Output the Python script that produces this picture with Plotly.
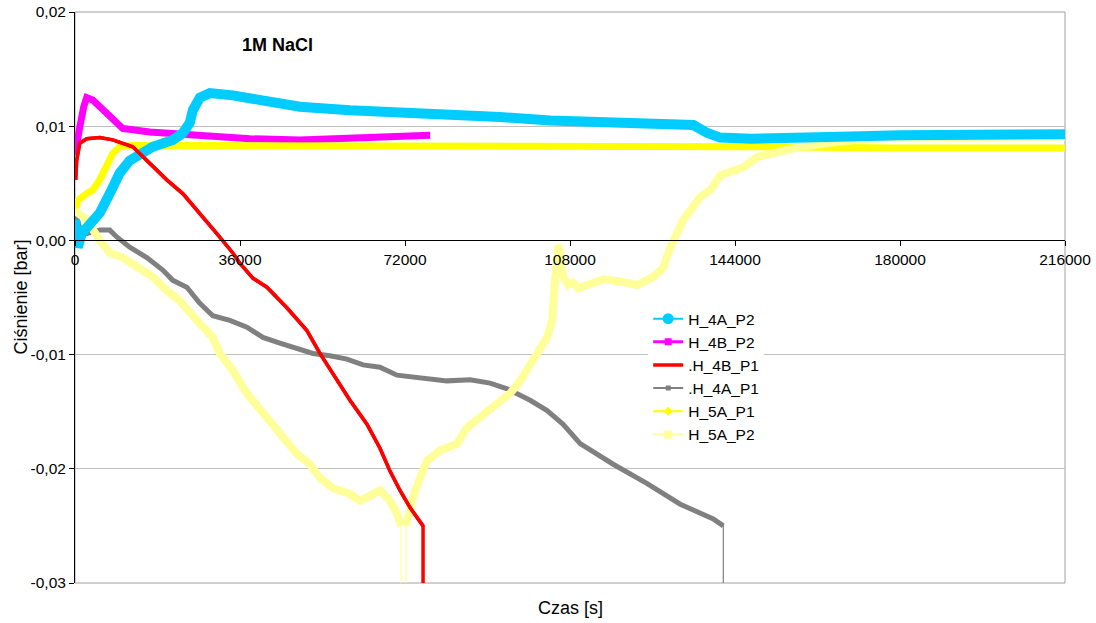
import plotly.graph_objects as go

# ---------------- data (time [s], pressure [bar]) ----------------
OFF = -0.05  # value below the axis minimum (line runs off-scale)

t_4A_P2 = [0, 600, 1460, 3210, 5400, 7580, 9760, 11950, 14130, 16970, 21340, 23520, 25050,
           25710, 27240, 29420, 34440, 41870, 49070, 60000, 70910, 81830, 92750, 103670,
           114590, 125510, 134900, 137960, 140800, 147350, 158270, 169190, 180110, 201950, 216000]
v_4A_P2 = [0.0018, -0.0006, 0.0006, 0.0015, 0.0024, 0.0041, 0.0059, 0.0070, 0.0076, 0.0082,
           0.0088, 0.0094, 0.0103, 0.0114, 0.0125, 0.0129, 0.0127, 0.0123, 0.0117, 0.0114,
           0.0112, 0.0112, 0.0108, 0.0105, 0.0103, 0.0101, 0.0101, 0.0094, 0.0090, 0.0089,
           0.0089, 0.0091, 0.0092, 0.0093, 0.0093]

t_4B_P2 = [0, 370, 1030, 1900, 2550, 3870, 5400, 7580, 10420, 16310, 27230, 38150, 49070,
           58480, 69400, 77480]
v_4B_P2 = [0.0075, 0.0088, 0.0099, 0.0117, 0.0125, 0.0123, 0.0117, 0.0108, 0.0098, 0.0095,
           0.0092, 0.0089, 0.0088, 0.0089, 0.0091, 0.0092]

t_4B_P1 = [150, 370, 1030, 2550, 5400, 8230, 12600, 16310, 20030, 23520, 27240, 30950, 34440,
           35960, 38800, 41870, 46230, 50600, 53440, 56280, 59990, 63700, 66540, 68730, 70910,
           73100, 74620, 75940, 75940]
v_4B_P1 = [0.0053, 0.0070, 0.0085, 0.0089, 0.0090, 0.0088, 0.0082, 0.0068, 0.0053, 0.0041,
           0.0024, 0.0006, -0.0011, -0.0020, -0.0033, -0.0041, -0.0059, -0.0079, -0.0099,
           -0.0117, -0.0140, -0.0161, -0.0182, -0.0202, -0.0219, -0.0234, -0.0243, -0.0250, OFF]

t_4A_P1 = [0, 1030, 2550, 5400, 7580, 9110, 11950, 15660, 19150, 21340, 24400, 27240, 30070,
           33790, 37500, 41000, 44710, 48420, 51910, 55630, 59340, 62840, 66540, 70250, 77460,
           81170, 86200, 90560, 94270, 99300, 103010, 106500, 110220, 117430, 124850, 132060,
           139260, 141450, 141450]
v_4A_P1 = [0.0026, 0.0011, 0.0006, 0.0009, 0.0009, 0.0003, -0.0006, -0.0015, -0.0026, -0.0035,
           -0.0041, -0.0055, -0.0066, -0.0070, -0.0076, -0.0085, -0.0090, -0.0095, -0.0099,
           -0.0101, -0.0104, -0.0109, -0.0111, -0.0118, -0.0121, -0.0123, -0.0122, -0.0125,
           -0.0130, -0.0140, -0.0149, -0.0161, -0.0178, -0.0196, -0.0213, -0.0231, -0.0244,
           -0.0250, OFF]

t_5A_P1 = [0, 600, 2550, 3870, 5400, 6920, 8230, 9760, 12600, 30000, 60000, 90000, 120000,
           150000, 180000, 216000]
v_5A_P1 = [0.0024, 0.0035, 0.0041, 0.0044, 0.0053, 0.0064, 0.0076, 0.0082, 0.0083, 0.0083,
           0.0083, 0.0082, 0.0082, 0.0082, 0.0081, 0.0081]

t_5A_P2 = [0, 2550, 5400, 7580, 10420, 12600, 13470, 16970, 20030, 22870, 26580, 30070, 31600,
           34440, 37500, 41000, 44710, 48420, 51260, 53440, 56280, 59990, 62180, 63700, 66540,
           68730, 70250, 71130, 71130, 72220, 72220, 73750, 75280, 76810, 79650, 83360, 85540,
           89910, 92750, 94930, 97120, 99960, 103010, 104110, 104330, 104770, 105210, 105430,
           105860, 106520, 107610, 108700, 109790, 111760, 115250, 118960, 122670, 126170,
           128350, 129880, 132060, 132720, 136430, 138620, 140800, 143640, 145830, 148890,
           152380, 158270, 165480, 172900, 180110, 201950, 216000]
v_5A_P2 = [0.0026, 0.0018, 0.0000, -0.0011, -0.0015, -0.0020, -0.0024, -0.0032, -0.0044,
           -0.0053, -0.0070, -0.0085, -0.0099, -0.0114, -0.0134, -0.0152, -0.0169, -0.0187,
           -0.0196, -0.0208, -0.0217, -0.0222, -0.0228, -0.0225, -0.0219, -0.0228, -0.0239,
           -0.0250, OFF, OFF, -0.0250, -0.0225, -0.0208, -0.0193, -0.0184, -0.0178, -0.0164,
           -0.0149, -0.0140, -0.0134, -0.0123, -0.0103, -0.0085, -0.0070, -0.0044, -0.0032,
           -0.0018, -0.0004, -0.0011, -0.0032, -0.0039, -0.0037, -0.0042, -0.0039, -0.0034,
           -0.0036, -0.0039, -0.0032, -0.0024, -0.0006, 0.0011, 0.0018, 0.0038, 0.0044, 0.0057,
           0.0061, 0.0064, 0.0073, 0.0077, 0.0082, 0.0086, 0.0089, 0.0090, 0.0090, 0.0091]

x_ticks = [0, 36000, 72000, 108000, 144000, 180000, 216000]
y_ticks = [0.02, 0.01, 0.0, -0.01, -0.02, -0.03]
y_ticktext = ["0,02", "0,01", "0,00", "-0,01", "-0,02", "-0,03"]

Y_MIN, Y_MAX = -0.03, 0.02
FONT = "Liberation Sans, Arial, sans-serif"

fig = go.Figure()


def add_series(t, v, color, width, thin_width):
    in_range = [None if y < Y_MIN else y for y in v]
    if any(y < Y_MIN for y in v):
        fig.add_trace(go.Scatter(x=t, y=v, mode="lines", showlegend=False, hoverinfo="skip",
                                 line=dict(color=color, width=thin_width)))
    fig.add_trace(go.Scatter(x=t, y=in_range, mode="lines", showlegend=False,
                             connectgaps=False,
                             line=dict(color=color, width=width, shape="linear")))


# drawing order (bottom to top)
add_series(t_4B_P2, v_4B_P2, "#FF00FF", 7, 1)
add_series(t_4A_P1, v_4A_P1, "#808080", 5, 1.2)
add_series(t_5A_P1, v_5A_P1, "#FFFF00", 7, 1)
add_series(t_5A_P2, v_5A_P2, "#FFFF99", 8, 1.2)
add_series(t_4A_P2, v_4A_P2, "#00CCFF", 10, 1)
add_series(t_4B_P1, v_4B_P1, "#FF0000", 3.5, 3.5)

# legend entries
legend_items = [
    ("H_4A_P2", "#00CCFF", 2, "circle", 11),
    ("H_4B_P2", "#FF00FF", 3, "square", 7),
    (".H_4B_P1", "#FF0000", 3.5, None, 0),
    (".H_4A_P1", "#808080", 2, "square", 5),
    ("H_5A_P1", "#FFFF00", 2, "diamond", 7),
    ("H_5A_P2", "#FFFF99", 2, "square", 8),
]
for name, col, lw, sym, ms in legend_items:
    fig.add_trace(go.Scatter(
        x=[None], y=[None], name=name,
        mode="lines+markers" if sym else "lines",
        line=dict(color=col, width=lw),
        marker=dict(symbol=sym or "circle", size=ms, color=col),
    ))

fig.update_layout(
    width=1096, height=623,
    margin=dict(l=75, r=31, t=12, b=40, autoexpand=False),
    paper_bgcolor="white", plot_bgcolor="white",
    font=dict(family=FONT, size=15, color="black"),
    showlegend=True,
    legend=dict(x=0.579, y=0.492, xanchor="left", yanchor="top",
                bgcolor="white", borderwidth=0,
                font=dict(family=FONT, size=15.5, color="black"),
                tracegroupgap=0, itemwidth=30),
    xaxis=dict(range=[0, 216000], tickvals=x_ticks, tickformat="d",
               anchor="free", position=(0 - Y_MIN) / (Y_MAX - Y_MIN), automargin=False,
               showline=True, linecolor="black", linewidth=1,
               ticks="outside", ticklen=5, tickcolor="black",
               showgrid=False, zeroline=False,
               tickfont=dict(family=FONT, size=15.5, color="black")),
    yaxis=dict(range=[Y_MIN, Y_MAX], tickvals=y_ticks, ticktext=y_ticktext, automargin=False,
               showline=True, linecolor="black", linewidth=1,
               ticks="outside", ticklen=5, tickcolor="black",
               showgrid=True, gridcolor="#C0C0C0", gridwidth=1, zeroline=False,
               tickfont=dict(family=FONT, size=15.5, color="black")),
    shapes=[dict(type="rect", xref="paper", yref="paper", x0=0, x1=1, y0=0, y1=1,
                 line=dict(color="#A0A0A0", width=1), layer="below")],
    annotations=[
        dict(text="<b>1M NaCl</b>", xref="paper", yref="paper",
             x=(277 - 75) / 990, y=(583 - 45) / 571, showarrow=False,
             font=dict(family=FONT, size=18, color="black"),
             xanchor="center", yanchor="middle"),
        dict(text="Czas [s]", xref="paper", yref="paper",
             x=0.5, y=(583 - 608) / 571, showarrow=False,
             font=dict(family=FONT, size=18, color="black"),
             xanchor="center", yanchor="middle"),
        dict(text="Ciśnienie [bar]", xref="paper", yref="paper",
             x=(20 - 75) / 990, y=0.5, showarrow=False, textangle=-90,
             font=dict(family=FONT, size=18, color="black"),
             xanchor="center", yanchor="middle"),
    ],
)

fig.write_html(
    "out.html",
    config={"displayModeBar": False},
    post_script="document.body.style.margin='0';document.body.style.padding='0';"
                "document.body.style.overflow='hidden';",
)
